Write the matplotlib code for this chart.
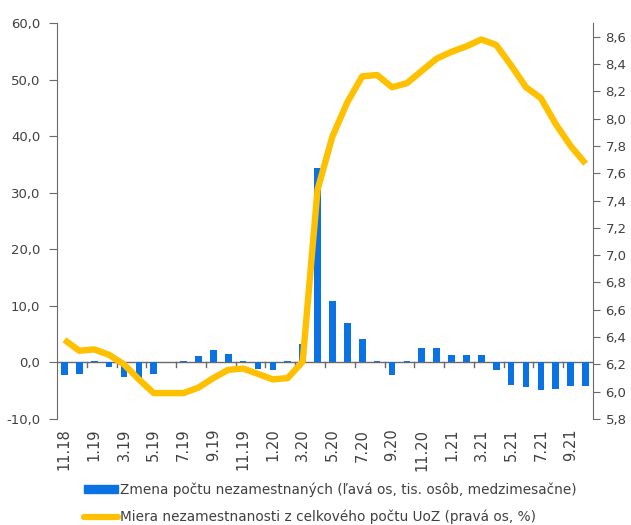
import numpy as np
import matplotlib
matplotlib.use('Agg')
import matplotlib.pyplot as plt
from matplotlib.ticker import FuncFormatter
from matplotlib.patches import Patch
from matplotlib.lines import Line2D

# months 11.18 .. 10.21
months = ['11.18', '12.18', '1.19', '2.19', '3.19', '4.19', '5.19', '6.19', '7.19', '8.19',
          '9.19', '10.19', '11.19', '12.19', '1.20', '2.20', '3.20', '4.20', '5.20', '6.20',
          '7.20', '8.20', '9.20', '10.20', '11.20', '12.20', '1.21', '2.21', '3.21', '4.21',
          '5.21', '6.21', '7.21', '8.21', '9.21', '10.21']

# change in number of unemployed (thousands, m/m)
change = [-2.3, -2.1, 0.3, -0.8, -2.5, -2.8, -2.1, 0.0, 0.3, 1.1,
          2.2, 1.5, 0.3, -1.1, -1.35, 0.3, 3.2, 34.3, 10.9, 7.0,
          4.1, 0.3, -2.3, 0.3, 2.5, 2.5, 1.25, 1.25, 1.25, -1.3,
          -3.95, -4.4, -4.9, -4.65, -4.2, -4.2]

# unemployment rate (%)
rate = [6.38, 6.30, 6.31, 6.27, 6.20, 6.09, 5.99, 5.99, 5.99, 6.03,
        6.10, 6.16, 6.17, 6.13, 6.09, 6.10, 6.22, 7.48, 7.87, 8.12,
        8.31, 8.32, 8.23, 8.26, 8.35, 8.44, 8.49, 8.53, 8.58, 8.54,
        8.39, 8.23, 8.15, 7.96, 7.80, 7.67]

label_bar = 'Zmena počtu nezamestnaných (ľavá os, tis. osôb, medzimesačne)'
label_line = 'Miera nezamestnanosti z celkového počtu UoZ (pravá os, %)'

blue = '#0A72E3'
gold = '#FFC000'
txt = '#404040'
axc = '#6a6a6a'

plt.rcParams['font.family'] = ['DejaVu Sans']

fig = plt.figure(figsize=(6.31, 5.25), dpi=100)
ax = fig.add_axes([0.0903, 0.2019, 0.8495, 0.7541])
ax2 = ax.twinx()

x = np.arange(len(months))
ax.bar(x, change, width=0.45, color=blue, zorder=2)
ax2.plot(x, rate, color=gold, lw=4.6, solid_joinstyle='round', solid_capstyle='butt', zorder=3)

comma = FuncFormatter(lambda v, p: f'{v:.1f}'.replace('.', ','))
ax.set_xlim(-0.5, len(months) - 0.5)
ax.set_ylim(-10, 60)
ax.set_yticks(np.arange(-10, 61, 10))
ax.yaxis.set_major_formatter(comma)
ax2.set_ylim(5.8, 8.7)
ax2.set_yticks(np.arange(5.8, 8.61, 0.2))
ax2.yaxis.set_major_formatter(comma)

for a in (ax, ax2):
    a.spines['top'].set_visible(False)
    a.spines['bottom'].set_visible(False)
ax.spines['left'].set_color(axc)
ax2.spines['right'].set_color(axc)
ax2.spines['left'].set_visible(False)
ax.spines['right'].set_visible(False)

# category axis crosses at zero, tick marks between every second month
ax.axhline(0, color=axc, lw=1.0, zorder=1)
ax.set_xticks([])
for xt in np.arange(1.5, len(months) - 1, 2):
    ax.plot([xt, xt], [0, -0.8], color=axc, lw=1.0, zorder=1)

sec = ax.secondary_xaxis('bottom')
sec.set_xticks(x[::2])
sec.set_xticklabels(months[::2], rotation=90, fontsize=10.5, color=txt)
sec.tick_params(length=0, pad=7)
sec.spines['bottom'].set_visible(False)

ax.tick_params(axis='y', direction='out', length=6, color=axc, pad=6, labelsize=9.5, labelcolor=txt)
ax2.tick_params(axis='y', direction='out', length=5, color=axc, pad=4, labelsize=9.5, labelcolor=txt)

ax.set_zorder(1)
ax2.set_zorder(2)
ax2.patch.set_visible(False)

handles = [Patch(color=blue), Line2D([], [], color=gold, lw=4.5, solid_capstyle='round')]
fig.legend(handles, [label_bar, label_line], loc='lower left', bbox_to_anchor=(0.114, -0.022),
           frameon=False, fontsize=9.8, handlelength=2.5, handleheight=0.5, handletextpad=0.1,
           labelspacing=0.95, labelcolor=txt)

fig.savefig('out.png', dpi=100)
